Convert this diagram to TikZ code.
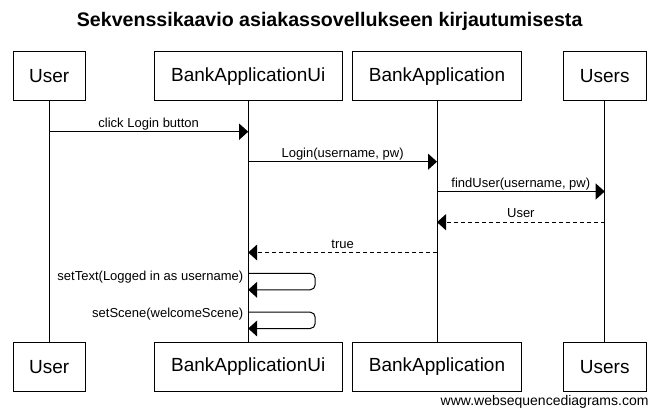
\documentclass[tikz,border=0pt]{standalone}
\usepackage{fontspec}
\setmainfont{Liberation Sans}
\usetikzlibrary{arrows.meta}
\begin{document}
\begin{tikzpicture}[x=1pt,y=-1pt, line width=1pt,
  actor/.style={draw, minimum height=49pt, inner sep=0pt, font=\fontsize{19}{22}\selectfont},
  msg/.style={-{Triangle[length=9pt,width=16pt]}},
  ret/.style={msg, dash pattern=on 4pt off 3pt},
  lbl/.style={font=\fontsize{13}{15}\selectfont, anchor=base, inner sep=0pt},
  mlbl/.style={lbl, midway, yshift=4.5pt},
  selflbl/.style={lbl, anchor=base east},
  lifeline/.style={draw}]
\useasboundingbox (0,0) rectangle (654,412);

\node[anchor=base, font=\fontsize{19.6}{23}\selectfont\bfseries] (title) at (329.7,26.7)
  {Sekvenssikaavio asiakassovellukseen kirjautumisesta};

% top actors
\node[actor, minimum width=71.7pt]  (uT)  at (49.2,76.2)  {User};
\node[actor, minimum width=188.3pt] (uiT) at (248.2,76.2) {BankApplicationUi};
\node[actor, minimum width=169.4pt] (baT) at (437,76.2)   {BankApplication};
\node[actor, minimum width=82.7pt]  (usT) at (604.7,76.2) {Users};
% bottom actors
\node[actor, minimum width=71.7pt]  (uB)  at (49.2,366.8)  {User};
\node[actor, minimum width=188.3pt] (uiB) at (248.2,366.8) {BankApplicationUi};
\node[actor, minimum width=169.4pt] (baB) at (437,366.8)   {BankApplication};
\node[actor, minimum width=82.7pt]  (usB) at (604.7,366.8) {Users};

% lifelines
\draw (uT.south)  -- (uB.north);
\draw (uiT.south) -- (uiB.north);
\draw (baT.south) -- (baB.north);
\draw (usT.south) -- (usB.north);

% message endpoints
\coordinate (m1a) at (uT.south  |- 0,131.7);
\coordinate (m1b) at (uiT.south |- 0,131.7);
\coordinate (m2a) at (uiT.south |- 0,161.7);
\coordinate (m2b) at (baT.south |- 0,161.7);
\coordinate (m3a) at (baT.south |- 0,191.5);
\coordinate (m3b) at (usT.south |- 0,191.5);
\coordinate (m4a) at (usT.south |- 0,222.2);
\coordinate (m4b) at (baT.south |- 0,222.2);
\coordinate (m5a) at (baT.south |- 0,252.5);
\coordinate (m5b) at (uiT.south |- 0,252.5);
\coordinate (s1a) at (uiT.south |- 0,273.3);
\coordinate (s1b) at (uiT.south |- 0,289.8);
\coordinate (s2a) at (uiT.south |- 0,312.2);
\coordinate (s2b) at (uiT.south |- 0,328.5);

\draw[msg] (m1a) -- (m1b) node[mlbl] {click Login button};
\draw[msg] (m2a) -- (m2b) node[mlbl] {Login(username, pw)};
\draw[msg] (m3a) -- (m3b) node[mlbl] {findUser(username, pw)};
\draw[ret] (m4a) -- (m4b) node[mlbl] {User};
\draw[ret] (m5a) -- (m5b) node[mlbl] {true};

\draw[msg, rounded corners=5pt] (s1a) -- ++(67,0) |- (s1b);
\node[selflbl] (l6) at ([xshift=-4.5pt]s1a |- 0,280.3) {setText(Logged in as username)};
\draw[msg, rounded corners=5pt] (s2a) -- ++(67,0) |- (s2b);
\node[selflbl] (l7) at ([xshift=-4.5pt]s2a |- 0,317.3) {setScene(welcomeScene)};

\node[anchor=base east, inner sep=0pt, font=\fontsize{14}{16}\selectfont] (wm) at (649,405)
  {www.websequencediagrams.com};
\end{tikzpicture}
\end{document}
